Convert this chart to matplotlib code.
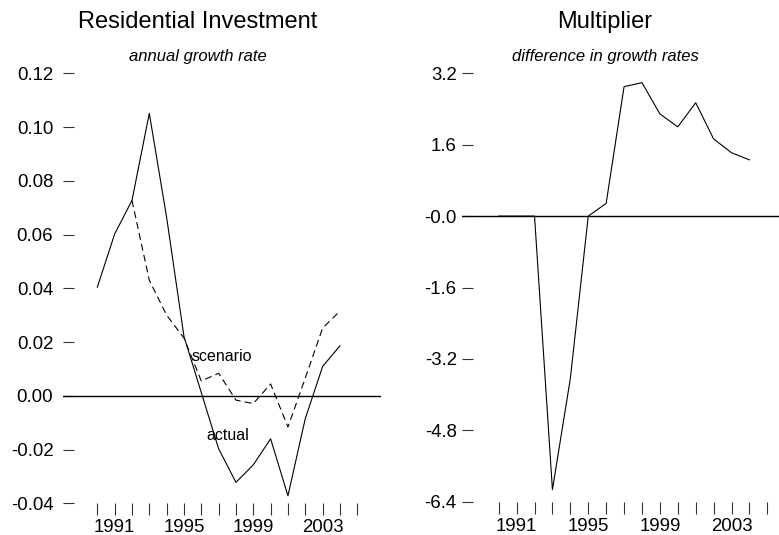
import matplotlib
matplotlib.use("Agg")
import matplotlib.pyplot as plt

plt.rcParams["font.family"] = ["Liberation Sans", "DejaVu Sans"]
plt.rcParams["lines.scale_dashes"] = False

# data
years = list(range(1990, 2005))
actual = [0.0404, 0.0602, 0.0727, 0.1051, 0.0664, 0.0221, 0.0012, -0.0197,
          -0.0322, -0.0257, -0.0160, -0.0372, -0.0085, 0.0109, 0.0186]
scenario_years = list(range(1992, 2005))
scenario = [0.0727, 0.0430, 0.0300, 0.0215, 0.0055, 0.0084, -0.0016, -0.0029,
            0.0044, -0.0116, 0.0066, 0.0252, 0.0315]
multiplier = [0.0, 0.0, 0.0, -6.13, -3.64, 0.0, 0.285, 2.90, 2.99, 2.29,
              2.00, 2.54, 1.73, 1.42, 1.26]

tick_years = list(range(1990, 2006))
labelled_years = [1991, 1995, 1999, 2003]
left_yticks = [0.12, 0.10, 0.08, 0.06, 0.04, 0.02, 0.00, -0.02, -0.04]
left_ylabels = ["0.12", "0.10", "0.08", "0.06", "0.04", "0.02", "0.00", "-0.02", "-0.04"]
right_yticks = [3.2, 1.6, 0.0, -1.6, -3.2, -4.8, -6.4]
right_ylabels = ["3.2", "1.6", "-0.0", "-1.6", "-3.2", "-4.8", "-6.4"]

W, H = 779, 535
fig = plt.figure(figsize=(W / 100, H / 100), dpi=100)


def px_axes(left, right, top, bottom):
    return fig.add_axes([left / W, 1 - bottom / H, (right - left) / W, (bottom - top) / H])


def style(ax, yticks, ylabels, ypad):
    for s in ax.spines.values():
        s.set_visible(False)
    ax.set_xticks(tick_years)
    ax.set_xticklabels([str(y) if y in labelled_years else "" for y in tick_years])
    ax.set_yticks(yticks)
    ax.set_yticklabels(ylabels)
    ax.tick_params(axis="x", direction="out", length=8.6, width=0.8, pad=3,
                   labelsize=13.4, color="#333333")
    ax.tick_params(axis="y", direction="in", length=7.8, width=0.8, pad=ypad,
                   labelsize=13.4, color="#333333")
    ax.axhline(0, color="black", lw=1.0)


# left panel
ax1 = px_axes(63, 381, 73.3, 503.3)
ax1.plot(years, actual, color="black", lw=0.8)
ax1.plot(scenario_years, scenario, color="black", lw=0.8, linestyle=(0, (5, 3)))
ax1.set_xlim(1988.02, 2006.37)
ax1.set_ylim(-0.04, 0.12)
style(ax1, left_yticks, left_ylabels, 7.0)
ax1.text(1995.46, 0.0146, "scenario", fontsize=11.5, ha="left", va="center")
ax1.text(1996.31, -0.0147, "actual", fontsize=11.5, ha="left", va="center")

# right panel
ax2 = px_axes(462, 790.6, 73.3, 501.7)
ax2.plot(years, multiplier, color="black", lw=0.8)
ax2.set_xlim(1987.95, 2006.3)
ax2.set_ylim(-6.4, 3.2)
style(ax2, right_yticks, right_ylabels, 3.8)

fig.text(197.6 / W, 1 - 22 / H, "Residential Investment", fontsize=17, ha="center", va="center")
fig.text(197.6 / W, 1 - 57 / H, "annual growth rate", fontsize=12, style="italic",
         ha="center", va="center")
fig.text(605 / W, 1 - 22 / H, "Multiplier", fontsize=17, ha="center", va="center")
fig.text(605 / W, 1 - 57 / H, "difference in growth rates", fontsize=12, style="italic",
         ha="center", va="center")

fig.savefig("out.png", dpi=100)
